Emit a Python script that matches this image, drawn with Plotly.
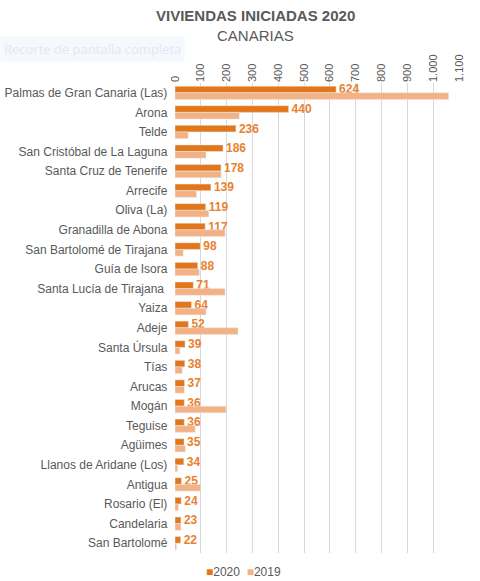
import plotly.graph_objects as go

municipios = [
    "Palmas de Gran Canaria (Las)", "Arona", "Telde", "San Cristóbal de La Laguna",
    "Santa Cruz de Tenerife", "Arrecife", "Oliva (La)", "Granadilla de Abona",
    "San Bartolomé de Tirajana", "Guía de Isora", "Santa Lucía de Tirajana ",
    "Yaiza", "Adeje", "Santa Úrsula", "Tías", "Arucas", "Mogán", "Teguise",
    "Agüimes", "Llanos de Aridane (Los)", "Antigua", "Rosario (El)",
    "Candelaria", "San Bartolomé",
]
v2020 = [624, 440, 236, 186, 178, 139, 119, 117, 98, 88, 71, 64, 52, 39, 38, 37, 36, 36, 35, 34, 25, 24, 23, 22]
v2019 = [1060, 249, 51, 120, 179, 83, 131, 194, 32, 94, 194, 120, 244, 19, 28, 36, 198, 78, 40, 10, 100, 13, 23, 6]

C2020 = "#E2761B"
C2019 = "#F4B183"

fig = go.Figure()
fig.add_trace(go.Bar(
    y=municipios, x=v2020, name="2020", orientation="h",
    marker=dict(color=C2020),
    text=[str(v) for v in v2020], textposition="outside", constraintext="none",
    textfont=dict(color="#E8822F", size=12, family="Liberation Sans, Arial", weight="bold"),
    cliponaxis=False,
))
fig.add_trace(go.Bar(
    y=municipios, x=v2019, name="2019", orientation="h",
    marker=dict(color=C2019),
))

fig.update_layout(
    width=480, height=581,
    margin=dict(l=175, r=21, t=83, b=28),
    paper_bgcolor="white", plot_bgcolor="white",
    barmode="group", bargap=0.32, bargroupgap=0,
    separators=",.",
    font=dict(family="Liberation Sans, Arial", color="#595959", size=12),
    showlegend=False,
    xaxis=dict(side="top", range=[0, 1100], dtick=100, tickformat=",",
               tickangle=-90, showgrid=True, gridcolor="#D9D9D9", gridwidth=1,
               zeroline=False, showline=False, ticks="", automargin=False,
               tickfont=dict(size=11, color="#595959")),
    yaxis=dict(autorange="reversed", showgrid=False, ticks="", showline=False,
               automargin=False, ticksuffix="  ",
               tickfont=dict(size=12, color="#595959")),
    annotations=[
        dict(text="<b>VIVIENDAS INICIADAS 2020</b>", xref="paper", yref="paper",
             x=0.282, y=1, yshift=68, xanchor="center", yanchor="middle",
             showarrow=False, font=dict(size=15, color="#595959")),
        dict(text="CANARIAS", xref="paper", yref="paper",
             x=0.282, y=1, yshift=48, xanchor="center", yanchor="middle",
             showarrow=False, font=dict(size=15, color="#595959")),
        dict(text="Recorte de pantalla completa", xref="paper", yref="paper",
             x=-175/284, y=1, yshift=34, xanchor="left", yanchor="middle",
             showarrow=False, bgcolor="#F5F8FC", borderpad=3,
             font=dict(size=13, color="#E3E9F1", family="Open Sans")),
        dict(text=f"<span style='color:{C2020}'>■</span>2020  <span style='color:{C2019}'>■</span>2019",
             xref="paper", yref="paper", x=0.24, y=0, yshift=-19,
             xanchor="center", yanchor="middle", showarrow=False,
             font=dict(size=12, color="#595959")),
    ],
)

fig.write_html("out.html", config={"displayModeBar": False},
               post_script="document.body.style.margin='0';document.body.style.overflow='hidden';")
